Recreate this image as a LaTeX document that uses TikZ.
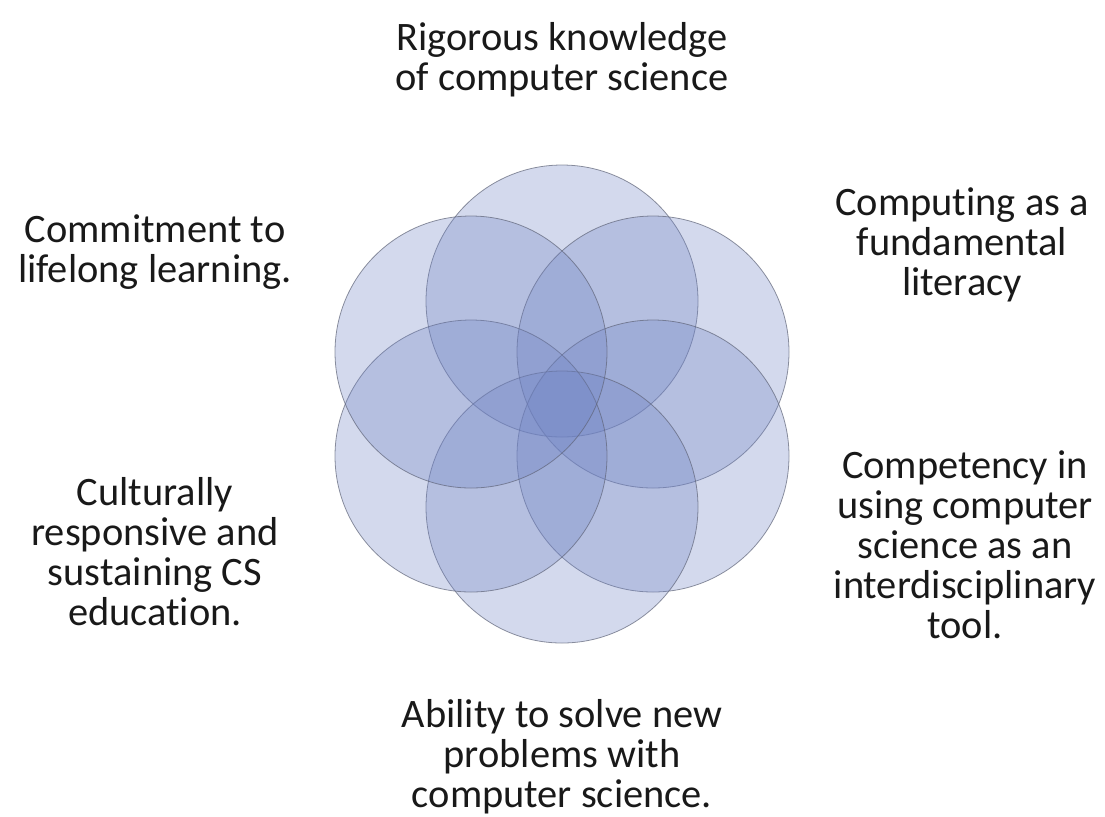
\documentclass[tikz,border=0pt]{standalone}
\usepackage{fontspec}
\setmainfont[RawFeature={-liga;-clig;-calt;-dlig;-rlig}]{Carlito}
\usepackage{xcolor}
\usetikzlibrary{calc}
\definecolor{petal}{RGB}{110,130,195}
\definecolor{rim}{RGB}{95,100,120}

\begin{document}
\begin{tikzpicture}[x=0.02cm, y=-0.02cm,
    petal/.style={fill=petal, fill opacity=0.3, draw=rim, draw opacity=0.7, line width=0.45pt},
    goal/.style={align=center, font=\fontsize{23}{22.8}\selectfont, text=black!90}]
    \useasboundingbox (0,0) rectangle (1105,816);
    % six overlapping circles around the middle
    \coordinate (M) at (562,404);
    \foreach \dx/\dy in {0/-103, 91/-52, 91/52, 0/103, -91/52, -91/-52}
        \draw [petal] ($(M)+(\dx,\dy)$) circle (136);
    % the labels round the flower
    \node [goal] (rigor) at (562,60) {Rigorous knowledge\\of computer science};
    \node [goal] (lit) at (962,245) {Computing as a\\fundamental\\literacy};
    \node [goal] (tool) at (965,545) {Competency in\\using computer\\science as an\\interdisciplinary\\tool.};
    \node [goal] (solve) at (562,757) {Ability to solve new\\problems with\\computer science.};
    \node [goal] (culture) at (155,552) {Culturally\\responsive and\\sustaining CS\\education.};
    \node [goal] (life) at (155,252) {Commitment to\\lifelong learning.};
\end{tikzpicture}
\end{document}
